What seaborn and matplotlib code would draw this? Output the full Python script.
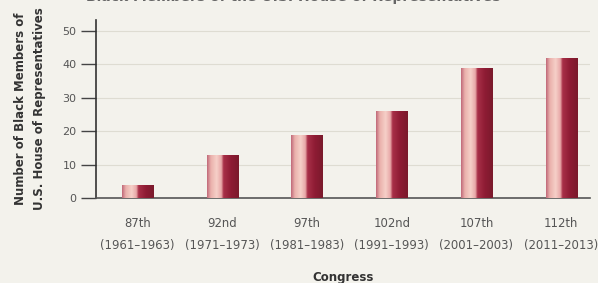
import numpy as np
import pandas as pd
import matplotlib
matplotlib.use("Agg")
import matplotlib.pyplot as plt
from matplotlib.colors import LinearSegmentedColormap
import seaborn as sns

congresses = ["87th", "92nd", "97th", "102nd", "107th", "112th"]
years = ["(1961–1963)", "(1971–1973)", "(1981–1983)", "(1991–1993)", "(2001–2003)", "(2011–2013)"]
members = [4, 13, 19, 26, 39, 42]
y_ticks = [0, 10, 20, 30, 40, 50]

df = pd.DataFrame({"congress": congresses, "members": members})

sns.set_theme(style="white")
plt.rcParams["font.family"] = ["DejaVu Sans"]

bg = "#f3f2ec"
fig = plt.figure(figsize=(5.98, 2.83), dpi=100, facecolor=bg)
ax = fig.add_axes([96 / 598, 85 / 283, 494 / 598, 178 / 283], facecolor=bg)

sns.barplot(data=df, x="congress", y="members", ax=ax, width=0.37,
            color="#9a2038", edgecolor="none", saturation=1)

cmap = LinearSegmentedColormap.from_list(
    "bar", [(0.0, "#c06878"), (0.12, "#eab0ac"), (0.3, "#f6d0c8"),
            (0.45, "#e8a8a8"), (0.52, "#a83048"), (0.75, "#8e1c34"),
            (1.0, "#7a1a2c")])
grad = np.linspace(0, 1, 256).reshape(1, -1)
for p in ax.patches:
    x0, y0 = p.get_x(), p.get_y()
    w, h = p.get_width(), p.get_height()
    im = ax.imshow(grad, cmap=cmap, aspect="auto",
                   extent=[x0, x0 + w, y0, y0 + h], zorder=3)
    im.set_clip_path(p)
    p.set_facecolor("none")

ax.set_xlim(-0.49, 5.34)
ax.set_ylim(0, 53.3)
ax.set_yticks(y_ticks)
ax.set_yticklabels([str(t) for t in y_ticks], color="#555555", fontsize=8)
ax.set_xticks(range(len(congresses)))
ax.set_xticklabels([f"{c}\n{y}" for c, y in zip(congresses, years)],
                   color="#555555", fontsize=8.4, linespacing=1.85)
ax.tick_params(axis="y", length=11, width=1, color="#444444", pad=3, left=True)
ax.tick_params(axis="x", length=0, pad=14)

for t in y_ticks[1:]:
    ax.axhline(t, color="#dedcd2", lw=0.8, zorder=0)

for s in ["top", "right"]:
    ax.spines[s].set_visible(False)
ax.spines["left"].set_color("#333333")
ax.spines["left"].set_linewidth(1.2)
ax.spines["bottom"].set_color("#555555")
ax.spines["bottom"].set_linewidth(1.2)

ax.set_xlabel("Congress", fontsize=8.5, fontweight="bold", color="#333333", labelpad=14)
ax.set_ylabel("Number of Black Members of\nU.S. House of Representatives",
              fontsize=8.5, fontweight="bold", color="#333333", labelpad=12,
              linespacing=1.6)

fig.text(0.49, 1.012, "Black Members of the U.S. House of Representatives",
         ha="center", va="center", fontsize=10, fontweight="bold", color="#666666")

fig.savefig("out.png", dpi=100, facecolor=bg)
